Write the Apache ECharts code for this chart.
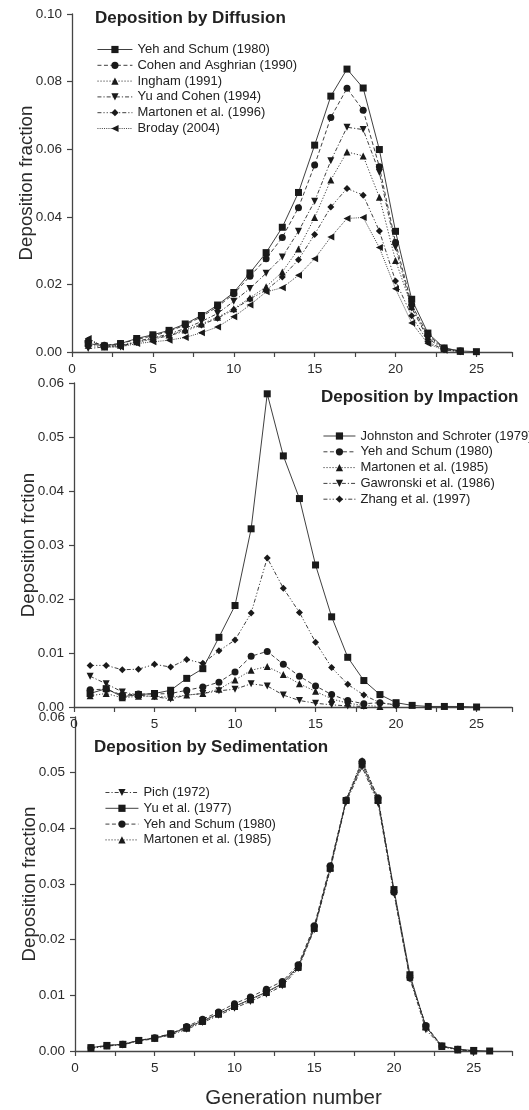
<!DOCTYPE html>
<html>
<head>
<meta charset="utf-8">
<script src="https://cdn.jsdelivr.net/npm/echarts@6/dist/echarts.min.js"></script>
<style>
  html, body { margin: 0; padding: 0; background: #fff; }
  #chart { width: 529px; height: 1110px; }
</style>
</head>
<body>
<div id="chart"></div>
<script>
// Airway generation numbers
const genDiff = [1,2,3,4,5,6,7,8,9,10,11,12,13,14,15,16,17,18,19,20,21,22,23,24,25];
const genImp  = [1,2,3,4,5,6,7,8,9,10,11,12,13,14,15,16,17,18,19,20,21,22,23,24,25];
const genSed  = [1,2,3,4,5,6,7,8,9,10,11,12,13,14,15,16,17,18,19,20,21,22,23,24,25,26];

// Deposition by diffusion
const diffYehSchum = [0.0025,0.0018,0.0025,0.0040,0.0051,0.0064,0.0083,0.0108,0.0139,0.0176,0.0234,0.0294,0.0369,0.0472,0.0612,0.0757,0.0837,0.0781,0.0599,0.0357,0.0156,0.0056,0.0012,0.0003,0.0001];
const diffCohen    = [0.0030,0.0020,0.0025,0.0037,0.0048,0.0061,0.0080,0.0104,0.0134,0.0172,0.0224,0.0276,0.0339,0.0427,0.0553,0.0694,0.0780,0.0715,0.0548,0.0324,0.0140,0.0050,0.0011,0.0003];
const diffIngham   = [0.0020,0.0015,0.0020,0.0030,0.0040,0.0050,0.0065,0.0083,0.0103,0.0128,0.0160,0.0193,0.0237,0.0305,0.0398,0.0509,0.0592,0.0580,0.0458,0.0271,0.0134,0.0045,0.0010,0.0002];
const diffYuCohen  = [0.0010,0.0015,0.0015,0.0032,0.0042,0.0053,0.0070,0.0090,0.0114,0.0150,0.0188,0.0233,0.0281,0.0357,0.0446,0.0566,0.0665,0.0658,0.0531,0.0310,0.0130,0.0040,0.0008,0.0002];
const diffMartonen = [0.0035,0.0018,0.0018,0.0028,0.0038,0.0048,0.0062,0.0080,0.0100,0.0125,0.0157,0.0183,0.0222,0.0273,0.0348,0.0429,0.0484,0.0464,0.0358,0.0210,0.0107,0.0030,0.0007,0.0001];
const diffBroday   = [0.0040,0.0015,0.0015,0.0025,0.0030,0.0035,0.0043,0.0057,0.0074,0.0104,0.0139,0.0178,0.0190,0.0227,0.0276,0.0340,0.0395,0.0398,0.0309,0.0187,0.0086,0.0025,0.0005,0.0001];

// Deposition by impaction
const impJohnston = [0.0025,0.0034,0.0019,0.0023,0.0025,0.0031,0.0053,0.0071,0.0129,0.0188,0.0330,0.0580,0.0465,0.0386,0.0263,0.0167,0.0092,0.0049,0.0023,0.0008,0.0003,0.0001,0.0001,0.0001,0.0000];
const impYehSchum = [0.0032,0.0033,0.0022,0.0024,0.0024,0.0025,0.0031,0.0037,0.0046,0.0065,0.0094,0.0103,0.0079,0.0057,0.0039,0.0023,0.0012,0.0006,0.0008,0.0004];
const impMartonen = [0.0021,0.0025,0.0017,0.0020,0.0020,0.0018,0.0022,0.0025,0.0033,0.0050,0.0068,0.0075,0.0060,0.0043,0.0029,0.0015,0.0007,0.0003,0.0001];
const impGawronski= [0.0057,0.0043,0.0028,0.0022,0.0019,0.0015,0.0022,0.0025,0.0030,0.0033,0.0043,0.0039,0.0022,0.0012,0.0007,0.0004,0.0002,0.0001];
const impZhang    = [0.0077,0.0077,0.0069,0.0070,0.0079,0.0074,0.0088,0.0081,0.0104,0.0124,0.0174,0.0276,0.0220,0.0175,0.0120,0.0073,0.0042,0.0022,0.0008,0.0003];

// Deposition by sedimentation
const sedPich     = [0.0005,0.0009,0.0011,0.0018,0.0022,0.0029,0.0039,0.0051,0.0064,0.0077,0.0089,0.0102,0.0117,0.0148,0.0218,0.0325,0.0447,0.0510,0.0445,0.0283,0.0130,0.0038,0.0008,0.0002,0.0000];
const sedYu       = [0.0006,0.0010,0.0012,0.0019,0.0023,0.0031,0.0042,0.0054,0.0067,0.0080,0.0093,0.0106,0.0121,0.0152,0.0221,0.0328,0.0450,0.0515,0.0450,0.0290,0.0137,0.0043,0.0009,0.0003,0.0001,0.0000];
const sedYehSchum = [0.0006,0.0010,0.0012,0.0019,0.0024,0.0031,0.0044,0.0057,0.0070,0.0085,0.0097,0.0111,0.0125,0.0155,0.0225,0.0333,0.0451,0.0520,0.0455,0.0285,0.0131,0.0046,0.0009,0.0003,0.0000];
const sedMartonen = [0.0005,0.0009,0.0012,0.0019,0.0023,0.0030,0.0041,0.0053,0.0066,0.0080,0.0092,0.0105,0.0120,0.0150,0.0220,0.0330,0.0452,0.0522,0.0452,0.0288,0.0133,0.0044,0.0008,0.0002,0.0000];

// Axis tick settings
const xTickStep = 2.5;
const yMaxTop = 0.10, yStepTop = 0.02;
const yMaxLow = 0.06, yStepLow = 0.01;

const FONT = "'Liberation Sans', Arial, Helvetica, sans-serif";
const INK = '#1a1a1a';
const LINE_W = 0.9;

const SYM = {
  square: 'rect',
  circle: 'circle',
  up: 'triangle',
  down: 'path://M0,0L10,0L5,9Z',
  left: 'path://M0,5L9,0L9,10Z',
  diamond: 'diamond'
};
const DASH = {
  solid: 'solid',
  dashed: [4, 2.5],
  dotted: [1.2, 1.8],
  dashDot: [4, 2, 1.2, 2],
  dashDotDot: [4, 2, 1.2, 2, 1.2, 2],
  fineDot: [1, 1.2]
};

function pairs(gen, vals) {
  return vals.map((v, i) => [gen[i], v]);
}

function line(panel, label, gen, vals, sym, dash) {
  const idx = panel === 'diff' ? 0 : panel === 'imp' ? 1 : 2;
  return {
    type: 'line',
    name: panel + '|' + label,
    xAxisIndex: idx,
    yAxisIndex: idx,
    data: pairs(gen, vals),
    symbol: SYM[sym],
    symbolSize: 7,
    showSymbol: true,
    lineStyle: { color: '#2a2a2a', width: LINE_W, type: DASH[dash] },
    itemStyle: { color: INK },
    emphasis: { disabled: true },
    animation: false
  };
}

const series = [
  line('diff', 'Yeh and Schum (1980)', genDiff, diffYehSchum, 'square', 'solid'),
  line('diff', 'Cohen and Asghrian (1990)', genDiff, diffCohen, 'circle', 'dashed'),
  line('diff', 'Ingham (1991)', genDiff, diffIngham, 'up', 'dotted'),
  line('diff', 'Yu and Cohen (1994)', genDiff, diffYuCohen, 'down', 'dashDot'),
  line('diff', 'Martonen et al. (1996)', genDiff, diffMartonen, 'diamond', 'dashDotDot'),
  line('diff', 'Broday (2004)', genDiff, diffBroday, 'left', 'fineDot'),

  line('imp', 'Johnston and Schroter (1979)', genImp, impJohnston, 'square', 'solid'),
  line('imp', 'Yeh and Schum (1980)', genImp, impYehSchum, 'circle', 'dashed'),
  line('imp', 'Martonen et al. (1985)', genImp, impMartonen, 'up', 'dotted'),
  line('imp', 'Gawronski et al. (1986)', genImp, impGawronski, 'down', 'dashDot'),
  line('imp', 'Zhang et al. (1997)', genImp, impZhang, 'diamond', 'dashDotDot'),

  line('sed', 'Pich (1972)', genSed, sedPich, 'down', 'dashDot'),
  line('sed', 'Yu et al. (1977)', genSed, sedYu, 'square', 'solid'),
  line('sed', 'Yeh and Schum (1980)', genSed, sedYehSchum, 'circle', 'dashed'),
  line('sed', 'Martonen et al. (1985)', genSed, sedMartonen, 'up', 'dotted')
];

const grids = [
  { left: 72, top: 14, width: 440, height: 338 },
  { left: 74, top: 383, width: 438, height: 324 },
  { left: 75, top: 717, width: 437, height: 334 }
];
const xMax = [27.2, 27.2, 27.4];

const axisLineStyle = { lineStyle: { color: '#454545', width: 1.3 } };
const tickStyle = { show: true, length: 5, lineStyle: { color: '#454545', width: 1.2 } };

const xAxes = grids.map((g, i) => ({
  type: 'value',
  gridIndex: i,
  min: 0,
  max: xMax[i],
  interval: xTickStep,
  axisLine: axisLineStyle,
  axisTick: tickStyle,
  splitLine: { show: false },
  axisLabel: {
    margin: 10,
    fontFamily: FONT,
    fontSize: 13.5,
    color: '#2a2a2a',
    formatter: v => (Math.abs(v % 5) < 1e-9 ? String(v) : '')
  },
  name: i === 2 ? 'Generation number' : '',
  nameLocation: 'middle',
  nameGap: 37,
  nameMoveOverlap: false,
  nameTextStyle: { fontFamily: FONT, fontSize: 20.5, color: '#2a2a2a' }
}));

const yNames = ['Deposition fraction', 'Deposition frction', 'Deposition fraction'];
const yAxes = grids.map((g, i) => ({
  type: 'value',
  gridIndex: i,
  min: 0,
  max: i === 0 ? yMaxTop : yMaxLow,
  interval: i === 0 ? yStepTop : yStepLow,
  axisLine: axisLineStyle,
  axisTick: tickStyle,
  splitLine: { show: false },
  axisLabel: {
    margin: 10,
    fontFamily: FONT,
    fontSize: 13.5,
    color: '#2a2a2a',
    formatter: v => v.toFixed(2)
  },
  name: yNames[i],
  nameLocation: 'middle',
  nameGap: 36,
  nameMoveOverlap: false,
  nameTextStyle: { fontFamily: FONT, fontSize: 18.7, color: '#2a2a2a' }
}));

const titleStyle = { fontFamily: FONT, fontSize: 17, fontWeight: 'bold', color: '#222' };
const titles = [
  { text: 'Deposition by Diffusion', left: 95, top: 10, padding: 0, textStyle: titleStyle },
  { text: 'Deposition by Impaction', left: 321, top: 389, padding: 0, textStyle: titleStyle },
  { text: 'Deposition by Sedimentation', left: 94, top: 739, padding: 0, textStyle: titleStyle }
];

function legendFor(prefix, left, top, itemWidth) {
  return {
    data: series.filter(s => s.name.startsWith(prefix + '|')).map(s => s.name),
    formatter: n => n.slice(n.indexOf('|') + 1),
    orient: 'vertical',
    left: left,
    top: top,
    padding: 0,
    itemWidth: itemWidth,
    itemHeight: 9,
    itemGap: 2.8,
    selectedMode: false,
    lineStyle: { width: LINE_W },
    textStyle: { fontFamily: FONT, fontSize: 13, color: '#222' }
  };
}

const legends = [
  legendFor('diff', 97, 43, 35),
  legendFor('imp', 323, 429.5, 32),
  legendFor('sed', 105, 786, 33)
];

const chart = echarts.init(document.getElementById('chart'), null, { renderer: 'canvas' });
chart.setOption({
  backgroundColor: '#ffffff',
  animation: false,
  title: titles,
  legend: legends,
  grid: grids,
  xAxis: xAxes,
  yAxis: yAxes,
  series: series
});
</script>
</body>
</html>
